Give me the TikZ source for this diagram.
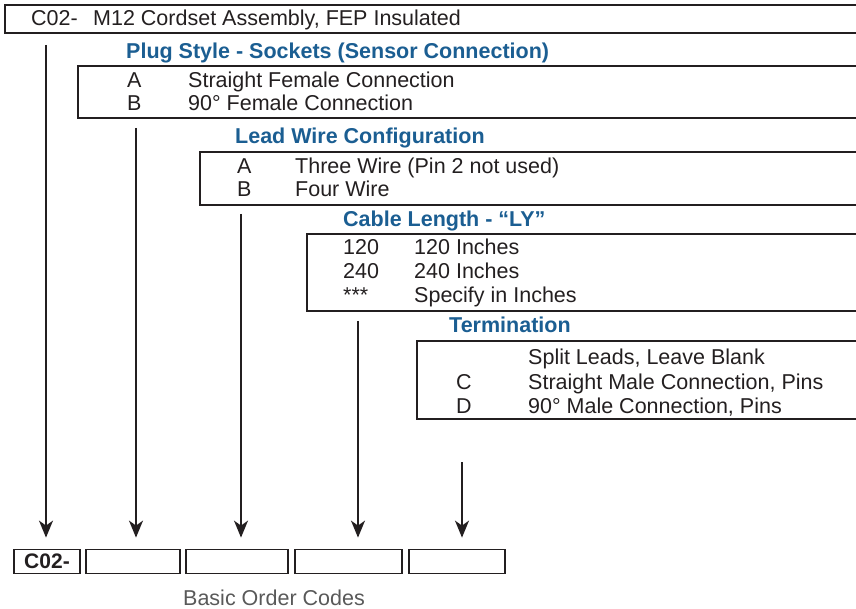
\documentclass[tikz,border=0pt]{standalone}
\usepackage{fontspec}
\setmainfont{Liberation Sans}
\usetikzlibrary{arrows.meta}
\definecolor{hdrblue}{HTML}{1B5E92}
\definecolor{ink}{HTML}{231F20}
\tikzset{
	txt/.style={anchor=base west, inner sep=0pt, text=ink, font=\fontsize{21.5}{24}\selectfont},
	hdr/.style={txt, text=hdrblue, font=\fontsize{21.5}{24}\selectfont\bfseries},
	optbox/.style={line width=2pt, draw=ink},
	codebox/.style={draw=ink, line width=1.8pt, minimum height=24pt, inner sep=0pt, text=ink, font=\fontsize{21}{24}\selectfont\bfseries},
	arr/.style={line width=1.8pt, draw=ink, -{Stealth[length=17pt,width=14pt,inset=5pt]}, shorten >=11pt}
}

\begin{document}
\begin{tikzpicture}[x=1pt,y=-1pt]
		%%%%% START %%%%%
		\clip (0,0) rectangle (856,609);
		
		\draw[optbox] (5,5) rectangle (880,33);
		\node[txt] (topcode) at (31,26) {C02-};
		\node[txt] (topname) at (93,26) {M12 Cordset Assembly, FEP Insulated};
		
		\node[hdr] (plughdr) at (126,59) {Plug Style - Sockets (Sensor Connection)};
		\draw[optbox] (78,66) rectangle (880,118);
		\node[txt] (pluga) at (127,88) {A};
		\node[txt] (plugatxt) at (188,88) {Straight Female Connection};
		\node[txt] (plugb) at (127,111) {B};
		\node[txt] (plugbtxt) at (188,111) {90° Female Connection};
		
		\node[hdr] (wirehdr) at (235,144) {Lead Wire Configuration};
		\draw[optbox] (200,152) rectangle (880,205);
		\node[txt] (wirea) at (237,174) {A};
		\node[txt] (wireatxt) at (295,174) {Three Wire (Pin 2 not used)};
		\node[txt] (wireb) at (237,197) {B};
		\node[txt] (wirebtxt) at (295,197) {Four Wire};
		
		\node[hdr] (lenhdr) at (343,227) {Cable Length - “LY”};
		\draw[optbox] (307,234) rectangle (880,311);
		\node[txt] (lena) at (343,255) {120};
		\node[txt] (lenatxt) at (414,255) {120 Inches};
		\node[txt] (lenb) at (343,279) {240};
		\node[txt] (lenbtxt) at (414,279) {240 Inches};
		\node[txt] (lenc) at (343,303) {***};
		\node[txt] (lenctxt) at (414,303) {Specify in Inches};
		
		\node[hdr] (termhdr) at (449,333) {Termination};
		\draw[optbox] (417,341) rectangle (880,419);
		\node[txt] (termatxt) at (528,364) {Split Leads, Leave Blank};
		\node[txt] (termb) at (456,389) {C};
		\node[txt] (termbtxt) at (528,389) {Straight Male Connection, Pins};
		\node[txt] (termc) at (456,413) {D};
		\node[txt] (termctxt) at (528,413) {90° Male Connection, Pins};
		
		\node[codebox, minimum width=66pt] (b1) at (47,561.5) {C02-};
		\node[codebox, minimum width=94pt] (b2) at (133,561.5) {};
		\node[codebox, minimum width=102pt] (b3) at (237,561.5) {};
		\node[codebox, minimum width=107pt] (b4) at (348.5,561.5) {};
		\node[codebox, minimum width=96pt] (b5) at (457,561.5) {};
		\node[txt, text=black!65] (codes) at (183,605) {Basic Order Codes};
		
		\coordinate (s1) at (46,45);
		\coordinate (s2) at (136,128);
		\coordinate (s3) at (241,214);
		\coordinate (s4) at (358,321);
		\coordinate (s5) at (462,462);
		\draw[arr] (s1) -- (s1 |- b1.north);
		\draw[arr] (s2) -- (s2 |- b2.north);
		\draw[arr] (s3) -- (s3 |- b3.north);
		\draw[arr] (s4) -- (s4 |- b4.north);
		\draw[arr] (s5) -- (s5 |- b5.north);
		
		%%%%% END %%%%%
\end{tikzpicture}
\end{document}
